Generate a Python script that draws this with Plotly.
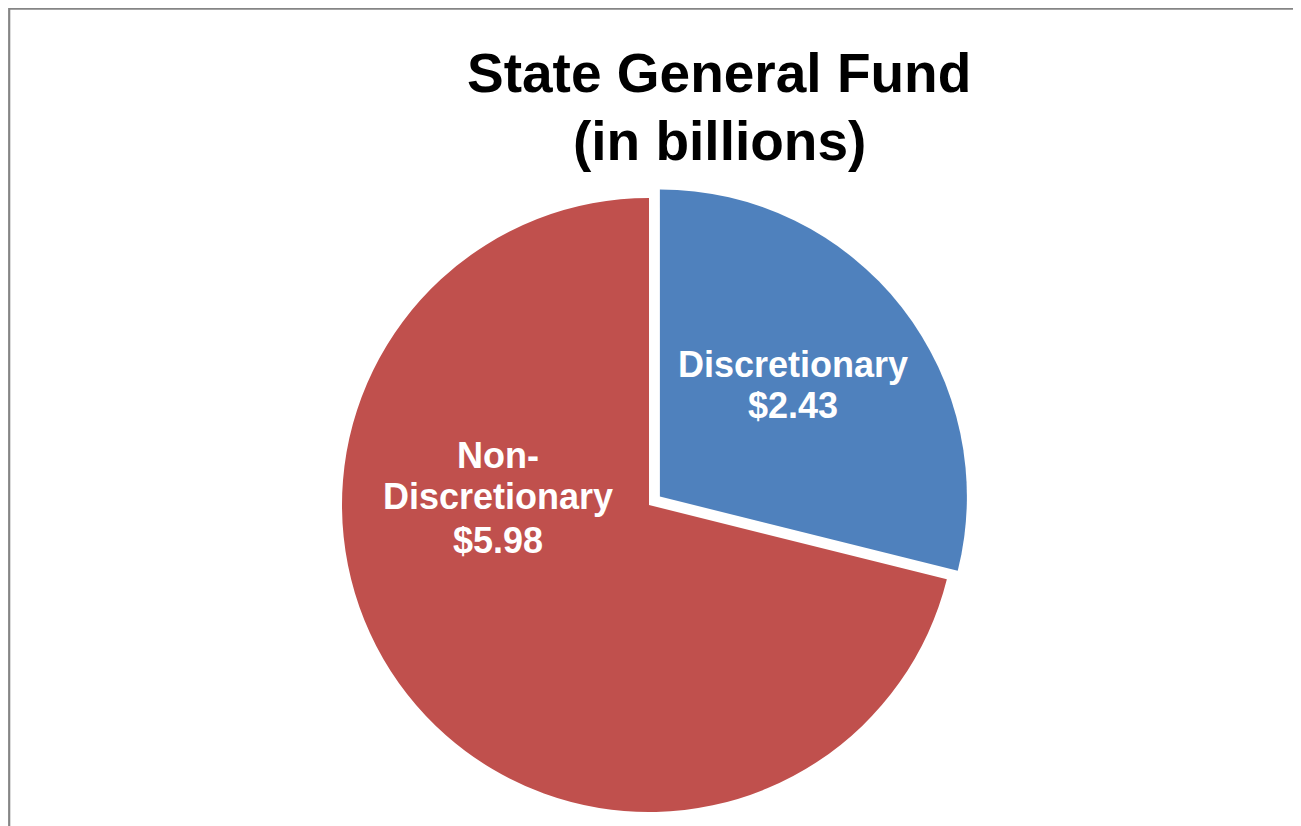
import plotly.graph_objects as go

labels = ["Discretionary", "Non-Discretionary"]
label_lines = [["Discretionary"], ["Non-", "Discretionary"]]
values = [2.43, 5.98]
colors = ["#4F81BD", "#C0504D"]
pulls = [0.045, 0.0]
title_lines = ["State General Fund", "(in billions)"]

W, H = 1301, 826
OFF = 8  # page body margin offset


def px(x):
    return (x - OFF) / W


def py(y):
    return 1 - (y - OFF) / H


R = 307.0
CX, CY = 641.0, 497.0
half = R * (1 + max(pulls))

fig = go.Figure(go.Pie(
    labels=labels,
    values=values,
    sort=False,
    direction="clockwise",
    rotation=0,
    pull=pulls,
    marker=dict(colors=colors, line=dict(width=0)),
    textinfo="none",
    hoverinfo="label+value",
    showlegend=False,
    domain=dict(x=[(CX - half) / W, (CX + half) / W],
                y=[1 - (CY + half) / H, 1 - (CY - half) / H]),
))

FONT = "Liberation Sans, Arial, Helvetica, sans-serif"

# per-slice label line centers (reference pixel coords)
label_pos = [(793, [365, 405]), (498, [455, 497, 540])]
annotations = []
for lines, v, (cx, ys) in zip(label_lines, values, label_pos):
    all_lines = lines + [f"${v:.2f}"]
    for t, yy in zip(all_lines, ys):
        annotations.append(dict(
            text=f"<b>{t}</b>", x=px(cx), y=py(yy), xref="paper", yref="paper",
            showarrow=False, xanchor="center", yanchor="middle",
            font=dict(family=FONT, size=36, color="white"),
        ))

for t, yy in zip(title_lines, [73, 141]):
    annotations.append(dict(
        text=f"<b>{t}</b>", x=px(719), y=py(yy), xref="paper", yref="paper",
        showarrow=False, xanchor="center", yanchor="middle",
        font=dict(family=FONT, size=55, color="black"),
    ))

fig.update_layout(
    width=W, height=H,
    margin=dict(l=0, r=0, t=0, b=0),
    paper_bgcolor="white",
    plot_bgcolor="white",
    annotations=annotations,
    shapes=[dict(type="rect", xref="paper", yref="paper",
                 x0=1.2 / W, x1=1.05, y0=-0.05, y1=1 - 0.6 / H,
                 line=dict(color="#858585", width=2.2), fillcolor="rgba(0,0,0,0)",
                 layer="below")],
)

fig.write_html("out.html")
